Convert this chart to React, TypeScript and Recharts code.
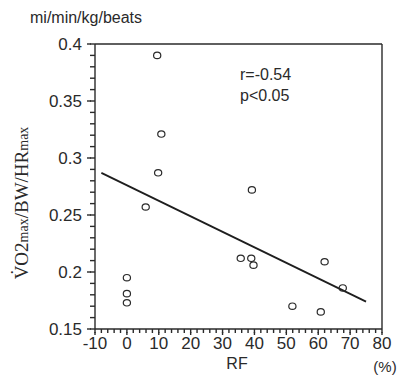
import { ScatterChart, Scatter, XAxis, YAxis, ReferenceLine } from "recharts";

// RF (%) against VO2max/BW/HRmax, one entry per subject
const rfValues = [9.5, 10.8, 9.8, 5.9, 0, 0, 0, 39.2, 35.7, 39, 39.7, 62, 67.7, 60.8, 51.9];
const vo2Values = [0.39, 0.321, 0.287, 0.257, 0.195, 0.181, 0.173, 0.272, 0.212, 0.212, 0.206, 0.209, 0.186, 0.165, 0.17];

// regression line end points
const fitRf = [-8, 75];
const fitVo2 = [0.287, 0.174];

const xTicks = Array.from({ length: 46 }, (_, i) => -10 + i * 2);
const yTicks = Array.from({ length: 26 }, (_, i) => +(0.15 + i * 0.01).toFixed(2));
const yMajor = [0.15, 0.2, 0.25, 0.3, 0.35, 0.4];

const INK = "#2a2a2a";
const SANS = "'Liberation Sans', Arial, sans-serif";
const SERIF = "'Liberation Serif', 'Times New Roman', serif";

const data = rfValues.map((rf, i) => ({ rf, vo2: vo2Values[i] }));

// labels only on the tens; the small comb comes from tickLine
function XTick(props: any) {
  const { x, y, payload } = props;
  const v = payload.value;
  if (v % 10 !== 0) return <g />;
  return (
    <g>
      <path d={`M${x},${y - 1}V${y + 2}`} stroke={INK} strokeWidth={1.4} />
      <text x={x} y={y + 16} textAnchor="middle" fontFamily={SANS} fontSize={17} fill={INK}>
        {v}
      </text>
    </g>
  );
}

function YTick(props: any) {
  const { x, y, payload } = props;
  const v = payload.value;
  if (!yMajor.some((m) => Math.abs(m - v) < 1e-6)) return <g />;
  return (
    <g>
      <path d={`M${x - 3},${y}H${x + 1}`} stroke={INK} strokeWidth={1.4} />
      <text x={x - 8} y={y + 6} textAnchor="end" fontFamily={SANS} fontSize={17} fill={INK}>
        {String(v)}
      </text>
    </g>
  );
}

function Ring({ cx, cy }: any) {
  return <ellipse cx={cx} cy={cy} rx={3.6} ry={3.2} fill="none" stroke={INK} strokeWidth={1.2} />;
}

export default function App() {
  return (
    <div style={{ position: "absolute", left: 0, top: 0, width: 398, height: 383, background: "#fff" }}>
      <ScatterChart width={398} height={383} margin={{ top: 44, right: 16, bottom: 0, left: 0 }}>
        <XAxis
          type="number"
          dataKey="rf"
          domain={[-10, 80]}
          ticks={xTicks}
          interval={0}
          height={54}
          tickSize={4}
          tickMargin={0}
          tickLine={{ stroke: INK, strokeWidth: 1.4 }}
          tick={XTick}
          axisLine={{ stroke: INK, strokeWidth: 1.4 }}
        />
        <YAxis
          type="number"
          dataKey="vo2"
          domain={[0.15, 0.4]}
          ticks={yTicks}
          interval={0}
          width={95}
          tickSize={5}
          tickMargin={0}
          tickLine={{ stroke: INK, strokeWidth: 1.4 }}
          tick={YTick}
          axisLine={{ stroke: INK, strokeWidth: 1.4 }}
        />
        <ReferenceLine y={0.4} stroke={INK} strokeWidth={1.4} />
        <ReferenceLine x={80} stroke={INK} strokeWidth={1.4} />
        <ReferenceLine
          segment={[
            { x: fitRf[0], y: fitVo2[0] },
            { x: fitRf[1], y: fitVo2[1] },
          ]}
          stroke="#1e1e1e"
          strokeWidth={1.8}
        />
        <Scatter data={data} shape={<Ring />} isAnimationActive={false} />
        <text x={30} y={23} fontFamily={SANS} fontSize={16} fill={INK}>
          mi/min/kg/beats
        </text>
        <text x={240} y={80} fontFamily={SANS} fontSize={16} fill={INK}>
          r=-0.54
        </text>
        <text x={240} y={101} fontFamily={SANS} fontSize={16} fill={INK}>
          p&lt;0.05
        </text>
        <text x={237} y={369} textAnchor="middle" fontFamily={SANS} fontSize={16} fill={INK}>
          RF
        </text>
        <text x={385} y={372} textAnchor="middle" fontFamily={SANS} fontSize={15} fill={INK}>
          (%)
        </text>
        <text
          x={28}
          y={203}
          transform="rotate(-90, 28, 203)"
          textAnchor="middle"
          fontFamily={SERIF}
          fontSize={19}
          fill={INK}
        >
          <tspan>{"V\u0307O2"}</tspan>
          <tspan fontSize={14}>max</tspan>
          <tspan>/BW/HR</tspan>
          <tspan fontSize={14}>max</tspan>
        </text>
      </ScatterChart>
    </div>
  );
}
